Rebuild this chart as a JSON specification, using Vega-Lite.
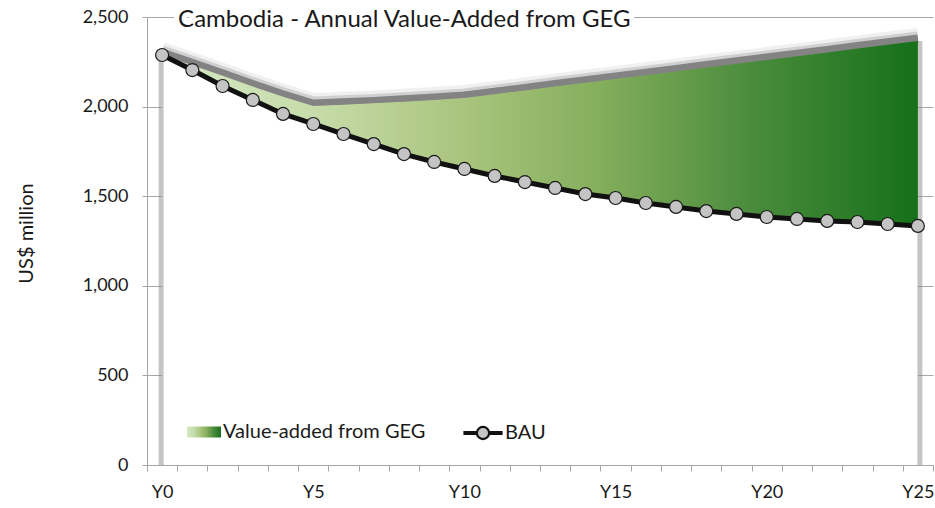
{
  "$schema": "https://vega.github.io/schema/vega-lite/v6.json",
  "width": 786,
  "height": 448,
  "autosize": "none",
  "padding": {"left": 147, "top": 17, "right": 2, "bottom": 43},
  "background": "white",
  "config": {
    "view": {"stroke": null},
    "axis": {
      "labelFont": "Lato",
      "titleFont": "Lato",
      "labelColor": "#1a1a1a",
      "titleColor": "#1a1a1a",
      "domainColor": "#a6a6a6",
      "tickColor": "#a6a6a6",
      "gridColor": "#a6a6a6"
    }
  },
  "data": {
    "values": [
      {"year": "Y0", "bau": 2288, "geg": 2288},
      {"year": "Y1", "bau": 2204, "geg": 2231},
      {"year": "Y2", "bau": 2115, "geg": 2172},
      {"year": "Y3", "bau": 2037, "geg": 2112},
      {"year": "Y4", "bau": 1959, "geg": 2055},
      {"year": "Y5", "bau": 1903, "geg": 2003},
      {"year": "Y6", "bau": 1847, "geg": 2010},
      {"year": "Y7", "bau": 1791, "geg": 2018},
      {"year": "Y8", "bau": 1735, "geg": 2027},
      {"year": "Y9", "bau": 1691, "geg": 2037},
      {"year": "Y10", "bau": 1652, "geg": 2048},
      {"year": "Y11", "bau": 1613, "geg": 2069},
      {"year": "Y12", "bau": 1579, "geg": 2090},
      {"year": "Y13", "bau": 1546, "geg": 2112},
      {"year": "Y14", "bau": 1512, "geg": 2133},
      {"year": "Y15", "bau": 1490, "geg": 2154},
      {"year": "Y16", "bau": 1462, "geg": 2175},
      {"year": "Y17", "bau": 1440, "geg": 2196},
      {"year": "Y18", "bau": 1417, "geg": 2218},
      {"year": "Y19", "bau": 1401, "geg": 2239},
      {"year": "Y20", "bau": 1384, "geg": 2260},
      {"year": "Y21", "bau": 1373, "geg": 2281},
      {"year": "Y22", "bau": 1362, "geg": 2302},
      {"year": "Y23", "bau": 1356, "geg": 2324},
      {"year": "Y24", "bau": 1345, "geg": 2345},
      {"year": "Y25", "bau": 1334, "geg": 2366}
    ]
  },
  "encoding": {
    "x": {
      "field": "year",
      "type": "ordinal",
      "sort": null,
      "scale": {"type": "band", "paddingInner": 0, "paddingOuter": 0},
      "axis": {
        "title": null,
        "tickBand": "extent",
        "tickSize": 6,
        "labelPadding": 12,
        "labelFontSize": 18,
        "labelAngle": 0,
        "labelExpr": "indexof(['Y0','Y5','Y10','Y15','Y20','Y25'], datum.value) >= 0 ? datum.value : ''",
        "grid": false
      }
    }
  },
  "layer": [
    {
      "mark": {"type": "area", "fill": "white", "orient": "vertical"},
      "encoding": {
        "y": {
          "field": "bau",
          "type": "quantitative",
          "scale": {"domain": [0, 2500], "nice": false},
          "axis": {
            "title": "US$ million",
            "titleFontSize": 20,
            "titleFontWeight": "normal",
            "titleAngle": -90,
            "titleX": -121,
            "titleY": 216,
            "titleAlign": "center",
            "titleBaseline": "middle",
            "values": [0, 500, 1000, 1500, 2000, 2500],
            "format": ",.0f",
            "labelFontSize": 18,
            "labelPadding": 14,
            "tickSize": 5,
            "grid": true
          }
        },
        "y2": {"datum": 0}
      }
    },
    {
      "transform": [{"filter": {"field": "year", "equal": "Y0"}}],
      "mark": {"type": "rule", "color": "#8c8c8c", "strokeWidth": 5, "opacity": 0.5, "xOffset": -1},
      "encoding": {"y": {"field": "geg", "type": "quantitative"}, "y2": {"datum": 0}}
    },
    {
      "transform": [{"filter": {"field": "year", "equal": "Y25"}}],
      "mark": {"type": "rule", "color": "#8c8c8c", "strokeWidth": 5, "opacity": 0.5, "xOffset": 2},
      "encoding": {"y": {"field": "geg", "type": "quantitative"}, "y2": {"datum": 0}}
    },
    {
      "mark": {"type": "line", "color": "#707070", "strokeWidth": 16, "opacity": 0.1, "yOffset": -5},
      "encoding": {"y": {"field": "geg", "type": "quantitative"}}
    },
    {
      "mark": {"type": "line", "color": "#707070", "strokeWidth": 11, "opacity": 0.25, "yOffset": -4},
      "encoding": {"y": {"field": "geg", "type": "quantitative"}}
    },
    {
      "mark": {"type": "line", "color": "#7a7a7a", "strokeWidth": 7, "opacity": 0.9, "yOffset": -3},
      "encoding": {"y": {"field": "geg", "type": "quantitative"}}
    },
    {
      "mark": {
        "type": "area",
        "fill": {"gradient": "linear", "x1": 0, "y1": 0, "x2": 1, "y2": 0,
          "stops": [
            {"offset": 0, "color": "#d6e9c4"},
            {"offset": 0.2, "color": "#c6dcaa"},
            {"offset": 0.4, "color": "#a9c47d"},
            {"offset": 0.58, "color": "#84ae5c"},
            {"offset": 0.78, "color": "#4a8c3c"},
            {"offset": 1, "color": "#16701a"}
          ]}
      },
      "encoding": {
        "y": {"field": "geg", "type": "quantitative"},
        "y2": {"field": "bau"},
        "opacity": {
          "datum": "Value-added from GEG",
          "type": "nominal",
          "scale": {"range": [1]},
          "legend": {
            "orient": "none",
            "legendX": 40,
            "legendY": 398,
            "title": null,
            "padding": 0,
            "labelFont": "Lato",
            "labelFontSize": 20,
            "labelColor": "#1a1a1a",
            "labelOffset": 2,
            "labelLimit": 400,
            "symbolType": "M-1,-0.32H1V0.32H-1Z",
            "symbolSize": 1156,
            "symbolStrokeWidth": 0
          }
        }
      }
    },
    {
      "mark": {"type": "line", "strokeWidth": 5},
      "encoding": {
        "y": {"field": "bau", "type": "quantitative"},
        "stroke": {
          "datum": "BAU",
          "type": "nominal",
          "scale": {"range": ["#111111"]},
          "legend": {
            "orient": "none",
            "legendX": 316,
            "legendY": 396,
            "title": null,
            "padding": 0,
            "labelFont": "Lato",
            "labelFontSize": 20,
            "labelColor": "#1a1a1a",
            "labelOffset": 2,
            "symbolType": "M-1,-0.055H-0.33V0.055H-1Z M0.33,-0.055H1V0.055H0.33Z M0.33,0A0.33,0.33 0 1,1 -0.33,0A0.33,0.33 0 1,1 0.33,0Z",
            "symbolSize": 1369,
            "symbolFillColor": "#c4c4c4",
            "symbolStrokeWidth": 2.2
          }
        }
      }
    },
    {
      "mark": {"type": "point", "filled": true, "shape": "circle", "size": 169, "fill": "#c4c4c4", "stroke": "#1a1a1a", "strokeWidth": 1.2, "opacity": 1},
      "encoding": {"y": {"field": "bau", "type": "quantitative"}}
    },
    {
      "transform": [{"filter": {"field": "year", "equal": "Y0"}}],
      "mark": {"type": "text", "text": "Cambodia - Annual Value-Added from GEG", "font": "Lato", "fontSize": 24, "align": "left", "baseline": "middle", "dx": 16, "dy": 3, "fill": "white", "stroke": "white", "strokeWidth": 10, "strokeJoin": "round"},
      "encoding": {"y": {"datum": 2500}}
    },
    {
      "transform": [{"filter": {"field": "year", "equal": "Y0"}}],
      "mark": {"type": "text", "text": "Cambodia - Annual Value-Added from GEG", "font": "Lato", "fontSize": 24, "align": "left", "baseline": "middle", "dx": 16, "dy": 3, "fill": "#1a1a1a"},
      "encoding": {"y": {"datum": 2500}}
    }
  ]
}
